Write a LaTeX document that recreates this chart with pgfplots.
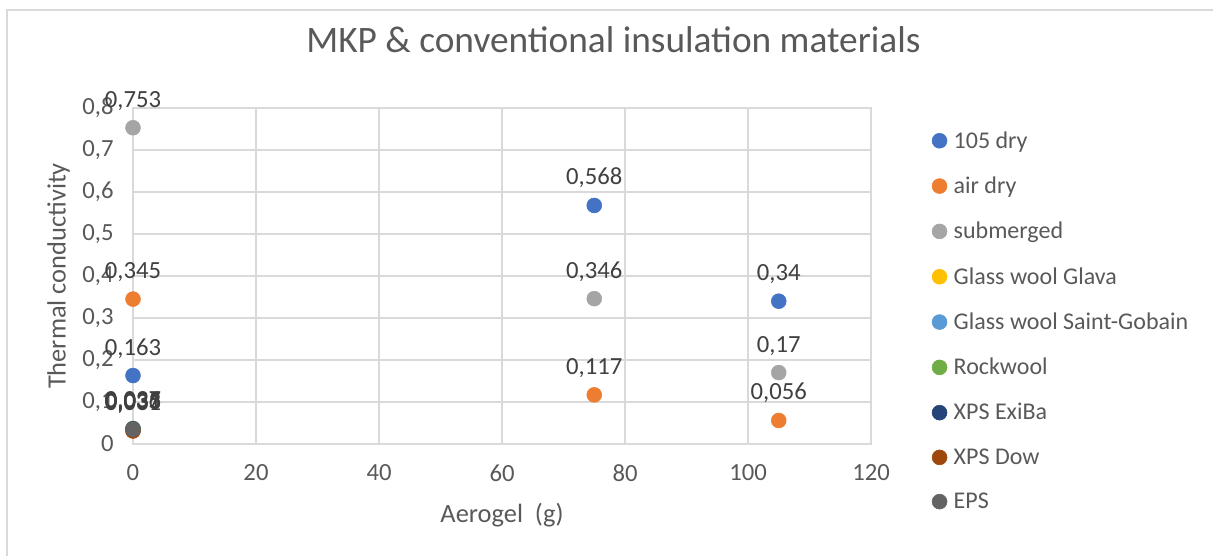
\documentclass[border=0pt]{standalone}
\usepackage{pgfplots}
\pgfplotsset{compat=1.18}
\usepackage{fontspec}
\setmainfont{Carlito}
\definecolor{txt}{HTML}{595959}
\definecolor{dlab}{HTML}{404040}
\definecolor{gridc}{HTML}{D9D9D9}
\definecolor{c1}{HTML}{4472C4}
\definecolor{c2}{HTML}{ED7D31}
\definecolor{c3}{HTML}{A5A5A5}
\definecolor{c4}{HTML}{FFC000}
\definecolor{c5}{HTML}{5B9BD5}
\definecolor{c6}{HTML}{70AD47}
\definecolor{c7}{HTML}{264478}
\definecolor{c8}{HTML}{9E480E}
\definecolor{c9}{HTML}{636363}
\begin{document}
\begin{tikzpicture}
\useasboundingbox (0pt,0pt) rectangle (909.75pt,417pt);
\draw[gridc,line width=1.5pt] (5.25pt,0pt) -- (5.25pt,409.5pt) -- (909.75pt,409.5pt);
\begin{axis}[
  at={(99.75pt,84pt)}, anchor=south west,
  scale only axis, width=553.5pt, height=252pt,
  xmin=0, xmax=120, ymin=0, ymax=0.8,
  xtick={0,20,...,120}, ytick={0,0.1,...,0.8},
  grid=major, grid style={gridc, line width=0.8pt},
  axis line style={gridc, line width=0.8pt},
  tick style={draw=none},
  tick label style={font=\fontsize{18.5}{22}\selectfont, text=txt},
  xticklabel style={yshift=-12pt},
  yticklabel style={xshift=-11pt},
  /pgf/number format/assume math mode=true,
  /pgf/number format/use comma,
  yticklabel={\pgfmathprintnumber[fixed,precision=1,use comma]{\tick}},
  xlabel={Aerogel\ \ (g)}, ylabel={Thermal conductivity},
  label style={font=\fontsize{19.8}{23}\selectfont, text=txt},
  xlabel style={at={(rel axis cs:0.5,-0.213)}, anchor=center},
  ylabel style={at={(rel axis cs:-0.101,0.5)}, anchor=center},
  title={MKP \& conventional insulation materials},
  title style={at={(rel axis cs:0.651,1.18)}, anchor=center, font=\fontsize{28}{32}\selectfont, text=txt},
  clip=false,
  nodes near coords={\pgfmathprintnumber[fixed,precision=3,use comma]{\pgfplotspointmeta}},
  point meta=explicit,
  every node near coord/.append style={font=\fontsize{18.5}{22}\selectfont, text=dlab, yshift=9.5pt},
  legend style={at={(rel axis cs:1.077,0.947)}, anchor=north west, draw=none, fill=none,
    font=\fontsize{18}{21}\selectfont, text=txt, row sep=16pt,
    /tikz/every odd column/.append style={column sep=3pt}},
  legend cell align=left,
  legend image code/.code={\draw[#1] plot coordinates {(0cm,0cm)};},
]
\addplot[only marks, mark=*, mark size=5.6pt, c1, mark options={fill=c1, draw=c1}] table[meta=m] {
x y m
0 0.163 0.163
75 0.568 0.568
105 0.34 0.34
};
\addlegendentry{105 dry}
\addplot[only marks, mark=*, mark size=5.6pt, c2, mark options={fill=c2, draw=c2}] table[meta=m] {
x y m
0 0.345 0.345
75 0.117 0.117
105 0.056 0.056
};
\addlegendentry{air dry}
\addplot[only marks, mark=*, mark size=5.6pt, c3, mark options={fill=c3, draw=c3}] table[meta=m] {
x y m
0 0.753 0.753
75 0.346 0.346
105 0.17 0.17
};
\addlegendentry{submerged}
\addplot[only marks, mark=*, mark size=5.6pt, c4, mark options={fill=c4, draw=c4}] table[meta=m] {
x y m
0 0.035 0.035
};
\addlegendentry{Glass wool Glava}
\addplot[only marks, mark=*, mark size=5.6pt, c5, mark options={fill=c5, draw=c5}] table[meta=m] {
x y m
0 0.033 0.033
};
\addlegendentry{Glass wool Saint-Gobain}
\addplot[only marks, mark=*, mark size=5.6pt, c6, mark options={fill=c6, draw=c6}] table[meta=m] {
x y m
0 0.037 0.037
};
\addlegendentry{Rockwool}
\addplot[only marks, mark=*, mark size=5.6pt, c7, mark options={fill=c7, draw=c7}] table[meta=m] {
x y m
0 0.036 0.036
};
\addlegendentry{XPS ExiBa}
\addplot[only marks, mark=*, mark size=5.6pt, c8, mark options={fill=c8, draw=c8}] table[meta=m] {
x y m
0 0.031 0.031
};
\addlegendentry{XPS Dow}
\addplot[only marks, mark=*, mark size=5.6pt, c9, mark options={fill=c9, draw=c9}] table[meta=m] {
x y m
0 0.035 0.035
};
\addlegendentry{EPS}
\end{axis}
\end{tikzpicture}
\end{document}
